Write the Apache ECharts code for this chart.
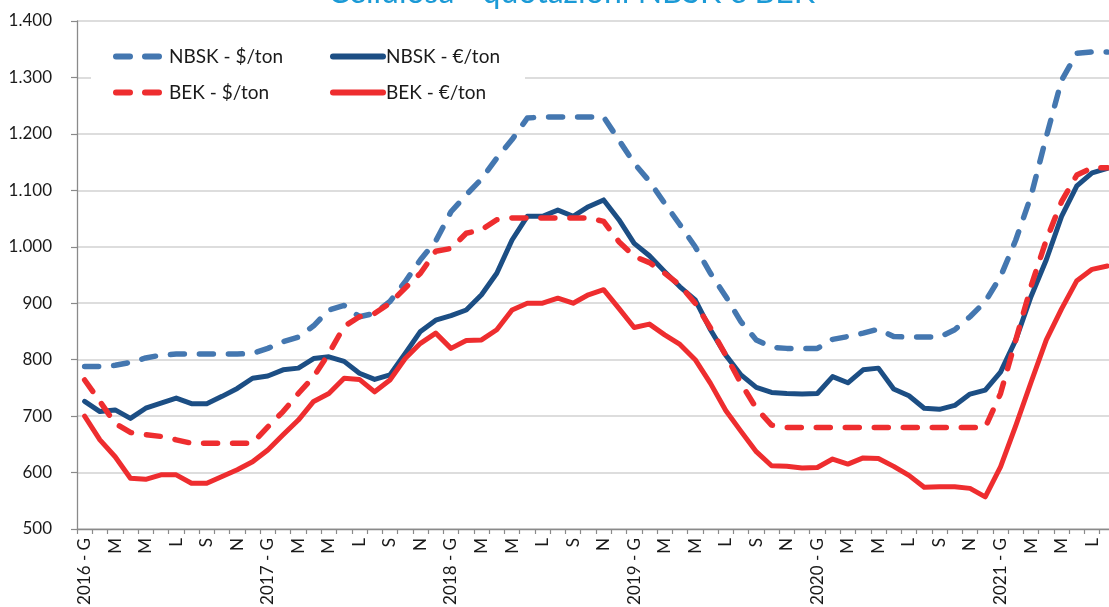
<!DOCTYPE html>
<html>
<head>
<meta charset="utf-8">
<script src="https://cdn.jsdelivr.net/npm/echarts@6/dist/echarts.min.js"></script>
<style>
html,body{margin:0;padding:0;background:#fff;}
#chart{width:1109px;height:607px;}
</style>
</head>
<body>
<div id="chart"></div>
<script>
// ---- data ----
const TITLE = 'Cellulosa - quotazioni NBSK e BEK';
const YEARS = [2016, 2017, 2018, 2019, 2020, 2021];
const MONTH_LETTERS = ['G','F','M','A','M','G','L','A','S','O','N','D'];
const MONTH_COUNT = 68; // Jan 2016 .. Aug 2021
const SERIES_NAMES = ['NBSK - $/ton', 'NBSK - €/ton', 'BEK - $/ton', 'BEK - €/ton'];
const Y_TICKS = [500, 600, 700, 800, 900, 1000, 1100, 1200, 1300, 1400];

const nbskUsd = [788,788,790,795,803,808,810,810,810,810,810,811,
                 820,832,840,860,888,896,876,882,903,938,977,1010,
                 1062,1092,1120,1157,1190,1228,1230,1230,1230,1230,1230,1189,
                 1148,1116,1077,1039,1000,953,912,867,835,822,820,820,
                 820,836,841,847,854,841,840,840,840,853,876,903,
                 947,1012,1090,1195,1295,1343,1345,1345];
const nbskEur = [726,708,711,696,714,723,732,722,722,735,749,767,
                 771,782,785,802,805,797,776,765,773,811,850,870,
                 878,888,915,953,1012,1054,1054,1065,1054,1071,1083,1048,
                 1006,984,956,929,906,853,808,773,751,742,740,739,
                 740,770,759,782,785,748,736,714,712,719,739,746,
                 778,835,912,977,1054,1108,1131,1139];
const bekUsd = [764,726,687,671,667,664,658,652,652,652,652,652,
                681,708,740,770,811,859,876,882,900,927,953,992,
                997,1024,1030,1048,1051,1051,1051,1051,1051,1051,1045,1009,
                983,972,953,932,900,856,808,758,714,684,680,680,
                680,680,680,680,680,680,680,680,680,680,680,680,
                740,835,930,1012,1080,1127,1140,1140];
const bekEur = [700,658,628,590,588,596,596,581,581,593,605,619,
                640,667,693,726,740,767,765,743,764,802,829,847,
                820,834,835,853,888,900,900,909,900,915,924,891,
                857,863,844,827,800,758,710,673,637,612,611,608,
                609,624,615,626,625,611,595,574,575,575,572,557,
                610,683,760,835,890,940,960,966];

// ---- build categories ----
const categories = [];
for (let i = 0; i < MONTH_COUNT; i++) {
  const y = YEARS[Math.floor(i / 12)];
  const m = i % 12;
  categories.push(m === 0 ? (y + ' - ' + MONTH_LETTERS[m]) : (y + '|' + m));
}
function catLabel(c) {
  if (c.indexOf('|') < 0) return c;
  return MONTH_LETTERS[parseInt(c.split('|')[1], 10)];
}
function itNum(v) {
  if (v >= 1000) return Math.floor(v / 1000) + '.' + String(v % 1000).padStart(3, '0');
  return String(v);
}

const FONT = 'Lato';
const C_NBSK_USD = '#4477b0';
const C_NBSK_EUR = '#1c4e84';
const C_BEK = '#ee2d2f';
const DASH = [14, 15];

const seriesDefs = [
  {name: SERIES_NAMES[0], data: nbskUsd, color: C_NBSK_USD, dashed: true},
  {name: SERIES_NAMES[1], data: nbskEur, color: C_NBSK_EUR, dashed: false},
  {name: SERIES_NAMES[2], data: bekUsd, color: C_BEK, dashed: true},
  {name: SERIES_NAMES[3], data: bekEur, color: C_BEK, dashed: false}
];

function legendFor(name, left, top, itemWidth, padLeft) {
  return {
    data: [name],
    left: left, top: top,
    padding: 0,
    itemWidth: itemWidth, itemHeight: 14,
    selectedMode: false,
    itemStyle: {opacity: 0},
    lineStyle: {width: 6, cap: 'round'},
    textStyle: {fontFamily: FONT, fontSize: 19, color: '#1a1a1a', padding: [0, 0, 0, padLeft]}
  };
}

const chart = echarts.init(document.getElementById('chart'), null, {renderer: 'canvas'});
chart.setOption({
  animation: false,
  backgroundColor: '#ffffff',
  title: {
    text: TITLE,
    left: 328, top: -23, padding: 0,
    textStyle: {fontFamily: FONT, fontSize: 32, fontWeight: 'normal', color: '#1b9ad6'}
  },
  graphic: [{
    type: 'rect', z: 3,
    shape: {x: 91, y: 32, width: 434, height: 82},
    style: {fill: '#ffffff'}
  }],
  legend: [
    legendFor(SERIES_NAMES[0], 113, 47, 44, 4),
    legendFor(SERIES_NAMES[1], 330, 47, 50, -2),
    legendFor(SERIES_NAMES[2], 113, 83, 44, 4),
    legendFor(SERIES_NAMES[3], 330, 83, 50, -2)
  ],
  grid: {left: 77, width: 1038, top: 21, height: 508, containLabel: false, outerBoundsMode: 'none'},
  xAxis: {
    type: 'category',
    data: categories,
    boundaryGap: true,
    axisLine: {show: true, lineStyle: {color: '#8a8a8a', width: 1.3}},
    axisTick: {show: true, interval: 0, length: 5, lineStyle: {color: '#8a8a8a', width: 1.2}},
    axisLabel: {
      interval: 1, rotate: 90, margin: 9,
      fontFamily: FONT, fontSize: 17, color: '#1a1a1a',
      formatter: catLabel
    },
    splitLine: {show: false}
  },
  yAxis: {
    type: 'value',
    min: Y_TICKS[0], max: Y_TICKS[Y_TICKS.length - 1], interval: 100,
    axisLine: {show: true, lineStyle: {color: '#8a8a8a', width: 1.3}},
    axisTick: {show: true, length: 6, lineStyle: {color: '#8a8a8a', width: 1.2}},
    axisLabel: {margin: 25, fontFamily: FONT, fontSize: 17, color: '#1a1a1a', formatter: itNum},
    splitLine: {show: true, lineStyle: {color: '#d2d2d2', width: 1.5}}
  },
  series: seriesDefs.map(s => ({
    name: s.name,
    type: 'line',
    data: s.data,
    symbol: 'none',
    showSymbol: false,
    smooth: false,
    color: s.color,
    lineStyle: {
      color: s.color,
      width: s.dashed ? 5.5 : 5,
      type: s.dashed ? DASH : 'solid',
      cap: 'round', join: 'round'
    }
  }))
});
</script>
</body>
</html>
